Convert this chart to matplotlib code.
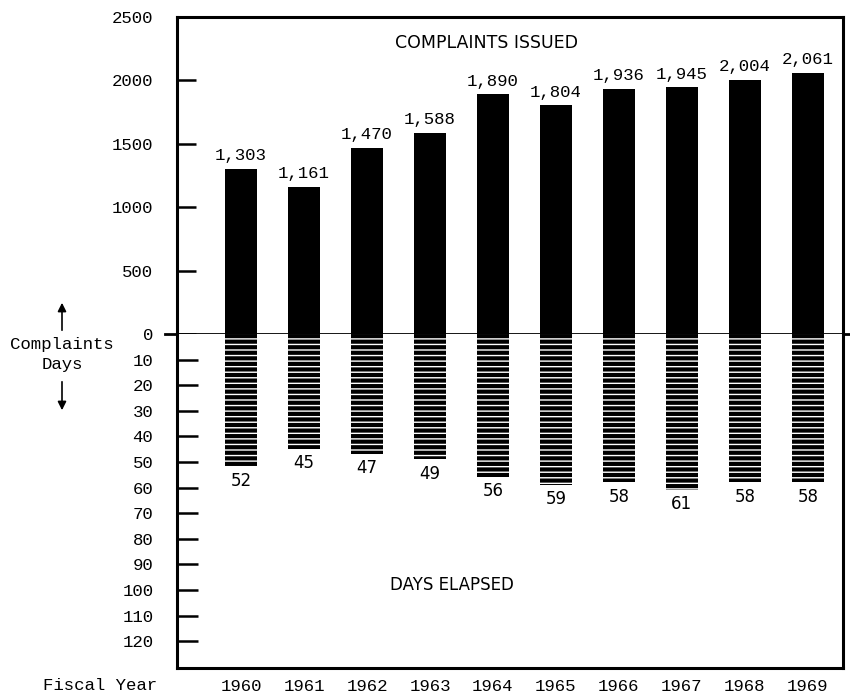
import matplotlib
matplotlib.use("Agg")
import matplotlib.pyplot as plt

years = ["1960", "1961", "1962", "1963", "1964", "1965", "1966", "1967", "1968", "1969"]
complaints = [1303, 1161, 1470, 1588, 1890, 1804, 1936, 1945, 2004, 2061]
complaint_labels = ["1,303", "1,161", "1,470", "1,588", "1,890", "1,804", "1,936", "1,945", "2,004", "2,061"]
days = [52, 45, 47, 49, 56, 59, 58, 61, 58, 58]
top_ticks = [0, 500, 1000, 1500, 2000, 2500]
day_ticks = [10, 20, 30, 40, 50, 60, 70, 80, 90, 100, 110, 120]

plt.rcParams["hatch.linewidth"] = 3.0
plt.rcParams["hatch.color"] = "black"
mono = "Liberation Mono"
fs = 12.5

fig = plt.figure(figsize=(8.5, 6.93), dpi=100)
x = list(range(len(years)))
x0, x1 = -1.016, 9.556

# top panel: complaints issued
ax1 = fig.add_axes([0.2082, 0.518, 0.7835, 0.4574])
ax1.bar(x, complaints, width=0.51, color="black")
for xi, v, lab in zip(x, complaints, complaint_labels):
    ax1.text(xi, v + 45, lab, ha="center", va="bottom", fontsize=fs, family=mono)
ax1.set_xlim(x0, x1)
ax1.set_ylim(0, 2500)
ax1.set_yticks(top_ticks)
ax1.set_yticklabels([str(t) for t in top_ticks], family=mono, fontsize=fs)
ax1.tick_params(axis="y", direction="in", length=14, width=1.8, pad=17)
ax1.set_xticks([])
ax1.text(3.9, 2295, "COMPLAINTS ISSUED", ha="center", va="center", fontsize=12.5)
ax1.axhline(0, xmin=-0.018, xmax=1.011, color="black", lw=2, clip_on=False, zorder=5)
for side in ["left", "top", "right"]:
    ax1.spines[side].set_linewidth(2.2)
ax1.spines["bottom"].set_visible(False)

# bottom panel: days elapsed
ax2 = fig.add_axes([0.2082, 0.0361, 0.7835, 0.4819])
ax2.bar(x, days, width=0.51, facecolor="none", edgecolor="black", linewidth=0, hatch="---")
for xi, v in zip(x, days):
    ax2.text(xi, v + 2, str(v), ha="center", va="top", fontsize=12)
ax2.set_xlim(x0, x1)
ax2.set_ylim(130.5, 0)
ax2.set_yticks(day_ticks)
ax2.set_yticklabels([str(t) for t in day_ticks], family=mono, fontsize=fs)
ax2.tick_params(axis="y", direction="in", length=15, width=1.8, pad=17)
ax2.set_xticks(x)
ax2.set_xticklabels(years, family=mono, fontsize=fs)
ax2.tick_params(axis="x", length=0, pad=8)
ax2.text(3.35, 98, "DAYS ELAPSED", ha="center", va="center", fontsize=12)
for side in ["left", "bottom", "right"]:
    ax2.spines[side].set_linewidth(2.2)
ax2.spines["top"].set_visible(False)

# side labels
fig.text(62 / 850, 1 - 344 / 693, "Complaints", ha="center", va="center", family=mono, fontsize=fs)
fig.text(62 / 850, 1 - 365 / 693, "Days", ha="center", va="center", family=mono, fontsize=fs)
fig.text(100 / 850, 1 - 685 / 693, "Fiscal Year", ha="center", va="center", family=mono, fontsize=fs)
fig.patches.append(matplotlib.patches.FancyArrowPatch(
    (62 / 850, 1 - 333 / 693), (62 / 850, 1 - 300 / 693), transform=fig.transFigure,
    arrowstyle="-|>,head_length=5,head_width=2.5", color="black", lw=1.2))
fig.patches.append(matplotlib.patches.FancyArrowPatch(
    (62 / 850, 1 - 379 / 693), (62 / 850, 1 - 413 / 693), transform=fig.transFigure,
    arrowstyle="-|>,head_length=5,head_width=2.5", color="black", lw=1.2))

fig.savefig("out.png", dpi=100)
